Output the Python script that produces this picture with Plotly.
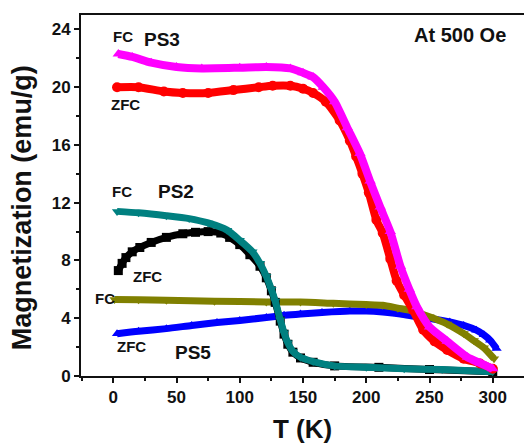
import plotly.graph_objects as go

# PS3
ps3_fc_T = [4, 15, 30, 50, 70, 100, 121, 140, 150, 158, 166, 175, 185, 195, 203, 211, 219, 227, 234, 240, 250, 264, 280, 290, 300]
ps3_fc_M = [22.3, 22.1, 21.7, 21.4, 21.3, 21.35, 21.4, 21.3, 21.0, 20.7, 20.0, 19.0, 17.2, 15.4, 13.5, 11.7, 10.0, 7.6, 6.0, 4.8, 3.4, 2.4, 1.3, 0.9, 0.5]
ps3_zfc_T = [3, 20, 40, 55, 75, 95, 115, 126, 140, 150, 158, 168, 179, 187, 192, 197, 202, 208, 213, 219, 224, 230, 237, 245, 254, 264, 277, 290, 300]
ps3_zfc_M = [20.0, 20.0, 19.7, 19.6, 19.6, 19.8, 20.0, 20.1, 20.1, 19.9, 19.6, 19.0, 17.7, 16.3, 15.2, 14.0, 12.7, 10.8, 9.9, 8.1, 6.6, 5.6, 4.55, 3.2, 2.4, 1.8, 1.2, 0.87, 0.5]

# PS2
ps2_fc_T = [3, 20, 42, 60, 75, 90, 100, 110, 116, 121, 125, 128, 132, 135, 138, 142, 148, 158, 175, 200, 230, 260, 300]
ps2_fc_M = [11.4, 11.3, 11.1, 10.9, 10.6, 10.1, 9.4, 8.6, 7.8, 6.9, 6.0, 5.2, 3.9, 3.0, 2.3, 1.7, 1.3, 1.0, 0.7, 0.6, 0.5, 0.45, 0.3]
ps2_zfc_T = [4, 7, 10, 15, 21, 30, 42, 55, 65, 75, 85, 92, 100, 108, 116, 121, 125, 128, 132, 135, 138, 142, 148, 158, 175, 210, 250, 300]
ps2_zfc_M = [7.3, 7.8, 8.2, 8.6, 8.9, 9.25, 9.6, 9.85, 9.95, 10.0, 9.9, 9.6, 9.1, 8.4, 7.6, 6.8, 5.9, 5.1, 3.8, 2.9, 2.2, 1.65, 1.25, 0.95, 0.7, 0.6, 0.45, 0.3]

# PS5
ps5_fc_T = [1, 20, 42, 80, 121, 148, 174, 200, 213, 225, 237, 250, 264, 277, 285, 293, 301]
ps5_fc_M = [5.3, 5.28, 5.24, 5.18, 5.13, 5.12, 5.03, 4.95, 4.9, 4.7, 4.5, 4.1, 3.6, 2.94, 2.45, 1.95, 1.2]
ps5_zfc_T = [3, 20, 42, 62, 82, 100, 121, 135, 148, 165, 187, 200, 213, 227, 240, 253, 266, 277, 287, 293, 298, 303]
ps5_zfc_M = [2.93, 3.1, 3.28, 3.5, 3.7, 3.85, 4.05, 4.2, 4.3, 4.4, 4.5, 4.5, 4.43, 4.3, 4.1, 3.95, 3.74, 3.5, 3.17, 2.85, 2.47, 1.9]

x_ticks = [0, 50, 100, 150, 200, 250, 300]
y_ticks = [0, 4, 8, 12, 16, 20, 24]

FONT = "Liberation Sans, Arial, sans-serif"

series = [
    (ps5_zfc_T, ps5_zfc_M, "#0000FF", "triangle-up", 7),
    (ps5_fc_T, ps5_fc_M, "#808000", "triangle-down", 7),
    (ps2_zfc_T, ps2_zfc_M, "#000000", "square", 7),
    (ps2_fc_T, ps2_fc_M, "#008080", "triangle-down", 7),
    (ps3_zfc_T, ps3_zfc_M, "#FF0000", "circle", 8),
    (ps3_fc_T, ps3_fc_M, "#FF00FF", "triangle-up", 8),
]

fig = go.Figure()
for T, M, col, sym, w in series:
    fig.add_trace(go.Scatter(
        x=T, y=M, mode="lines+markers",
        line=dict(color=col, width=w, shape="spline", smoothing=0.6),
        marker=dict(color=col, symbol=sym, size=w + 2),
        showlegend=False, hoverinfo="skip"))

ann = [
    ("FC", 7.7, 23.5, 15), ("PS3", 38.5, 23.3, 19), ("At 500 Oe", 274, 23.6, 20),
    ("ZFC", 10, 18.8, 15), ("FC", 7, 12.8, 15), ("PS2", 49.6, 12.8, 19),
    ("ZFC", 27.4, 6.9, 15), ("FC", -6.6, 5.4, 15), ("ZFC", 14.8, 2.06, 15),
    ("PS5", 63, 1.64, 19),
]
for txt, x, y, s in ann:
    fig.add_annotation(x=x, y=y, text=txt, showarrow=False,
                       font=dict(family=FONT, size=s, color="#111111", weight="bold"),
                       xanchor="center", yanchor="middle")

# y-axis title (placed as rotated text)
fig.add_annotation(xref="paper", yref="paper", x=0, y=0.465, xshift=-59,
                   text="Magnetization (emu/g)", textangle=-90, showarrow=False,
                   font=dict(family=FONT, size=27, color="#111111", weight="bold"),
                   xanchor="center", yanchor="middle")

fig.update_layout(
    width=524, height=444,
    margin=dict(l=81, r=0, t=15, b=68),
    plot_bgcolor="white", paper_bgcolor="white",
    font=dict(family=FONT, color="#111111"),
    showlegend=False,
)
fig.update_xaxes(
    range=[-25.5, 324.7], showgrid=False, zeroline=False,
    showline=True, linecolor="#111111", linewidth=2, mirror=True,
    ticks="outside", ticklen=5, tickwidth=2, tickcolor="#111111",
    tickvals=x_ticks, ticktext=[str(v) for v in x_ticks],
    tickfont=dict(family=FONT, size=17, weight="bold"),
    minor=dict(dtick=25, tick0=0, ticks="outside", ticklen=3, tickwidth=1.5, tickcolor="#111111"),
    title=dict(text="T (K)", font=dict(family=FONT, size=26, weight="bold"), standoff=14),
)
fig.update_yaxes(
    range=[0, 25], showgrid=False, zeroline=False,
    showline=True, linecolor="#111111", linewidth=2, mirror=False,
    ticks="outside", ticklen=5, tickwidth=2, tickcolor="#111111",
    tickvals=y_ticks, ticktext=[str(v) for v in y_ticks],
    tickfont=dict(family=FONT, size=17, weight="bold"),
    minor=dict(dtick=2, tick0=0, ticks="outside", ticklen=3, tickwidth=1.5, tickcolor="#111111"),
)

fig.write_html("out.html")
